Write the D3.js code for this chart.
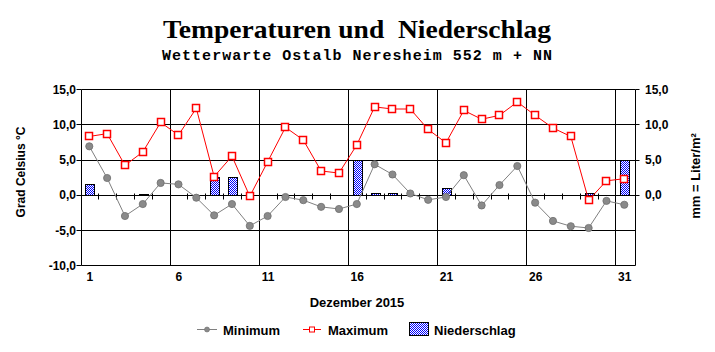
<!DOCTYPE html>
<html><head><meta charset="utf-8">
<script src="https://cdn.jsdelivr.net/npm/d3@7/dist/d3.min.js"></script>
<style>body{margin:0;background:#fff}svg{display:block}</style>
</head><body>
<svg id="c" width="715" height="352"></svg>
<script>
const days = d3.range(1, 32);
const tMin = [6.9, 2.4, -3.0, -1.3, 1.7, 1.5, -0.4, -2.9, -1.3, -4.4, -3.0, -0.3, -0.75, -1.7, -2.0, -1.3, 4.35, 2.9, 0.2, -0.7, -0.3, 2.8, -1.5, 1.4, 4.1, -1.1, -3.7, -4.45, -4.7, -0.85, -1.4];
const tMax = [8.3, 8.7, 4.2, 6.1, 10.3, 8.5, 12.3, 2.6, 5.5, -0.2, 4.7, 9.6, 7.8, 3.4, 3.1, 7.1, 12.5, 12.2, 12.2, 9.3, 7.4, 12.0, 10.75, 11.3, 13.2, 11.3, 9.5, 8.3, -0.75, 2.0, 2.3];
const precip = [1.5, 0, 0, 0.1, 0, 0, 0, 2.6, 2.6, 0, 0, 0, 0, 0, 0, 4.9, 0.2, 0.2, 0, 0, 1.0, 0, 0, 0, 0, 0, 0, 0, 0.2, 0, 5.0];
const leftTicks = [15, 10, 5, 0, -5, -10];
const rightTicks = [15, 10, 5, 0];
const xLabelDays = [1, 6, 11, 16, 21, 26, 31];
const gridDays = [5.5, 10.5, 15.5, 20.5, 25.5, 30.5];
const fmt = v => v.toFixed(1).replace('.', ',');

const svg = d3.select('#c');
const L = 81.5, R = 635.5;
const x = d3.scaleLinear().domain([1, 31]).range([89.3, 624.3]);
const y = d3.scaleLinear().domain([-10, 15]).range([265.3, 89.3]);
const px = v => Math.round(x(v)) + 0.5;
const py = v => Math.round(y(v)) + 0.5;
const sans = "'Liberation Sans', Arial, sans-serif";

const defs = svg.append('defs');
const pat = defs.append('pattern').attr('id', 'dots').attr('patternUnits', 'userSpaceOnUse')
  .attr('width', 2).attr('height', 2);
pat.append('rect').attr('width', 2).attr('height', 2).attr('fill', '#ffffff');
pat.append('rect').attr('x', 0).attr('y', 0).attr('width', 1).attr('height', 1).attr('fill', '#0000ff');
pat.append('rect').attr('x', 1).attr('y', 1).attr('width', 1).attr('height', 1).attr('fill', '#0000ff');

svg.append('text').attr('x', 357).attr('y', 38).attr('text-anchor', 'middle')
  .attr('font-family', "'Liberation Serif', 'Times New Roman', serif").attr('font-weight', 'bold')
  .attr('font-size', 26).attr('textLength', 388).attr('lengthAdjust', 'spacingAndGlyphs')
  .text('Temperaturen und\u00a0 Niederschlag');
svg.append('text').attr('x', 357).attr('y', 60).attr('text-anchor', 'middle')
  .attr('font-family', "'Liberation Mono', 'Courier New', monospace").attr('font-weight', 'bold')
  .attr('font-size', 15).attr('textLength', 390).attr('lengthAdjust', 'spacing')
  .text('Wetterwarte Ostalb Neresheim 552 m + NN');

const g = svg.append('g');
g.selectAll('.hg').data(leftTicks).join('line')
  .attr('x1', L).attr('x2', R).attr('y1', d => py(d)).attr('y2', d => py(d))
  .attr('stroke', '#000').attr('stroke-width', 1);
g.selectAll('.vg').data(gridDays).join('line')
  .attr('x1', d => px(d)).attr('x2', d => px(d)).attr('y1', py(15)).attr('y2', py(-10))
  .attr('stroke', '#000');
g.append('line').attr('x1', L).attr('x2', L).attr('y1', py(15)).attr('y2', py(-10)).attr('stroke', '#000');
g.append('line').attr('x1', R).attr('x2', R).attr('y1', py(15)).attr('y2', py(-10)).attr('stroke', '#000');
g.selectAll('.lt').data(leftTicks).join('line')
  .attr('x1', L - 5).attr('x2', L).attr('y1', d => py(d)).attr('y2', d => py(d)).attr('stroke', '#000');
g.selectAll('.rt').data(rightTicks).join('line')
  .attr('x1', R).attr('x2', R + 4).attr('y1', d => py(d)).attr('y2', d => py(d)).attr('stroke', '#000');
g.selectAll('.mt').data(d3.range(1, 31).map(d => d + 0.5)).join('line')
  .attr('x1', d => px(d)).attr('x2', d => px(d)).attr('y1', py(0) - 2).attr('y2', py(0) + 4)
  .attr('stroke', '#000');

g.selectAll('.yl').data(leftTicks).join('text')
  .attr('x', 76).attr('y', d => y(d) + 4.5).attr('text-anchor', 'end')
  .attr('font-family', sans).attr('font-weight', 'bold').attr('font-size', 12).text(fmt);
g.selectAll('.yr').data(rightTicks).join('text')
  .attr('x', 645).attr('y', d => y(d) + 4.5).attr('text-anchor', 'start')
  .attr('font-family', sans).attr('font-weight', 'bold').attr('font-size', 12).text(fmt);
g.selectAll('.xl').data(xLabelDays).join('text')
  .attr('x', d => x(d) + 0.5).attr('y', 281).attr('text-anchor', 'middle')
  .attr('font-family', sans).attr('font-weight', 'bold').attr('font-size', 12).text(d => d);
svg.append('text').attr('x', 357).attr('y', 307).attr('text-anchor', 'middle')
  .attr('font-family', sans).attr('font-weight', 'bold').attr('font-size', 13).text('Dezember 2015');
svg.append('text').attr('transform', 'translate(25,172) rotate(-90)').attr('text-anchor', 'middle')
  .attr('font-family', sans).attr('font-weight', 'bold').attr('font-size', 12).text('Grad Celsius °C');
svg.append('text').attr('transform', 'translate(700,176) rotate(-90)').attr('text-anchor', 'middle')
  .attr('font-family', sans).attr('font-weight', 'bold').attr('font-size', 13).text('mm = Liter/m²');

const bars = days.map((d, i) => ({d, v: precip[i]})).filter(o => o.v > 0);
g.selectAll('.bar').data(bars).join('rect')
  .attr('x', o => Math.round(x(o.d)) - 3.5).attr('width', 9)
  .attr('y', o => Math.round(y(o.v)) + 0.5).attr('height', o => Math.max(1, Math.round(y(0)) - Math.round(y(o.v))))
  .attr('fill', 'url(#dots)').attr('stroke', '#000').attr('stroke-width', 1);

const line = d3.line().x((d, i) => x(days[i])).y(d => y(d));
g.append('path').attr('d', line(tMin)).attr('fill', 'none').attr('stroke', '#808080').attr('stroke-width', 1);
g.selectAll('.cmin').data(tMin).join('circle')
  .attr('cx', (d, i) => x(days[i])).attr('cy', d => y(d)).attr('r', 3.6)
  .attr('fill', '#8a8a8a').attr('stroke', '#6e6e6e').attr('stroke-width', 0.8);
g.append('path').attr('d', line(tMax)).attr('fill', 'none').attr('stroke', '#ff0000').attr('stroke-width', 1);
g.selectAll('.smax').data(tMax).join('rect')
  .attr('x', (d, i) => Math.round(x(days[i])) - 3.5).attr('y', d => Math.round(y(d)) - 3.5)
  .attr('width', 7).attr('height', 7)
  .attr('fill', '#fff').attr('stroke', '#ff0000').attr('stroke-width', 1.5);

const lg = svg.append('g');
lg.append('line').attr('x1', 197).attr('x2', 217).attr('y1', 329.5).attr('y2', 329.5).attr('stroke', '#808080');
lg.append('circle').attr('cx', 207).attr('cy', 329.5).attr('r', 2.5).attr('fill', '#8a8a8a').attr('stroke', '#6e6e6e').attr('stroke-width', 0.6);
lg.append('text').attr('x', 223).attr('y', 335).attr('font-family', sans).attr('font-weight', 'bold').attr('font-size', 13).text('Minimum');
lg.append('line').attr('x1', 303).attr('x2', 321).attr('y1', 329.5).attr('y2', 329.5).attr('stroke', '#ff0000');
lg.append('rect').attr('x', 309.5).attr('y', 327).attr('width', 5).attr('height', 5).attr('fill', '#fff').attr('stroke', '#ff0000');
lg.append('text').attr('x', 328).attr('y', 335).attr('font-family', sans).attr('font-weight', 'bold').attr('font-size', 13).text('Maximum');
lg.append('rect').attr('x', 409.5).attr('y', 322.5).attr('width', 19).attr('height', 13).attr('fill', 'url(#dots)').attr('stroke', '#000');
lg.append('text').attr('x', 434).attr('y', 335).attr('font-family', sans).attr('font-weight', 'bold').attr('font-size', 13).text('Niederschlag');
</script>
</body></html>
